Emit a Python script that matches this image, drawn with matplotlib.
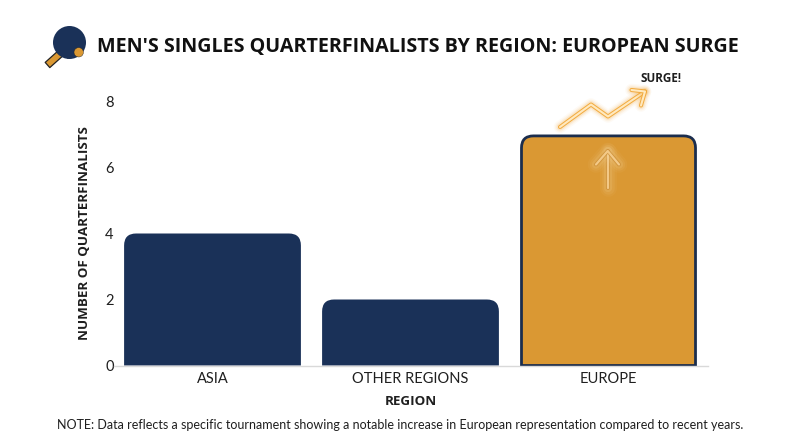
import matplotlib.pyplot as plt
from matplotlib.path import Path
from matplotlib.patches import PathPatch, Circle, Polygon

regions = ["ASIA", "OTHER REGIONS", "EUROPE"]
counts = [4, 2, 7]
y_ticks = [0, 2, 4, 6, 8]

NAVY = "#1a3158"
EDGE = "#1b2d4d"
GOLD = "#da9833"
INK = "#1f1f1f"
GLOW = "#f2a93b"

plt.rcParams["font.family"] = ["Lato", "DejaVu Sans"]
BOLD_FONT = ["Open Sans", "DejaVu Sans"]

fig = plt.figure(figsize=(8, 4.47), dpi=100)

# axes placed so that y=0 falls on pixel 365.5 and y=8 on 101.5
ax = fig.add_axes([113.5 / 800, 1 - 365.5 / 447, 594 / 800, 264 / 447])
ax.set_xlim(-0.5, 2.5)
ax.set_ylim(0, 8)


def top_rounded_bar(x, height, width=0.893, radius=12, inset=0):
    # radius and inset are in pixels, converted so the corners stay circular
    rx = radius / 198
    ry = radius / 33
    left, right = x - width / 2 + inset / 198, x + width / 2 - inset / 198
    top = height - inset / 33
    verts = [
        (left, 0), (left, top - ry), (left, top), (left + rx, top),
        (right - rx, top), (right, top), (right, top - ry), (right, 0), (left, 0),
    ]
    codes = [
        Path.MOVETO, Path.LINETO, Path.CURVE3, Path.CURVE3,
        Path.LINETO, Path.CURVE3, Path.CURVE3, Path.LINETO, Path.CLOSEPOLY,
    ]
    return Path(verts, codes)


for i, (region, count) in enumerate(zip(regions, counts)):
    if region == "EUROPE":
        patch = PathPatch(top_rounded_bar(i, count, inset=1.4), facecolor=GOLD, edgecolor=EDGE,
                          linewidth=2.0, clip_on=False)
    else:
        patch = PathPatch(top_rounded_bar(i, count), facecolor=NAVY, edgecolor="none")
    ax.add_patch(patch)

ax.set_xticks(range(len(regions)))
ax.set_xticklabels(regions, fontsize=10.5, color=INK)
ax.set_yticks(y_ticks)
ax.tick_params(axis="y", labelsize=10.5, labelcolor=INK, length=0, pad=0)
ax.tick_params(axis="x", length=0, pad=5)
for side in ["top", "right", "left"]:
    ax.spines[side].set_visible(False)
ax.spines["bottom"].set_color("#d9d9d9")
ax.spines["bottom"].set_linewidth(1)
ax.set_xlabel("REGION", fontsize=9.6, fontweight="bold", color=INK, labelpad=6, family=BOLD_FONT)
ax.set_ylabel("NUMBER OF QUARTERFINALISTS", fontsize=9.6, fontweight="bold", color=INK, labelpad=10,
              family=BOLD_FONT)

# overlay in pixel coordinates for the title, icon and decorations
over = fig.add_axes([0, 0, 1, 1])
over.set_xlim(0, 800)
over.set_ylim(447, 0)
over.axis("off")
over.patch.set_alpha(0)

over.text(97, 47, "MEN'S SINGLES QUARTERFINALISTS BY REGION: EUROPEAN SURGE", fontsize=14.25,
          fontweight="bold", color="#111111", va="center", family=BOLD_FONT)
over.text(661, 78, "SURGE!", fontsize=8.4, fontweight="bold", color=INK, ha="center", va="center",
          family=BOLD_FONT)
over.text(400, 425, "NOTE: Data reflects a specific tournament showing a notable increase in European "
          "representation compared to recent years.", fontsize=9.0, color=INK, ha="center", va="center")

# paddle icon
over.add_patch(Polygon([(45.2, 62.4), (49.8, 67.6), (64.3, 54.6), (68, 58), (55, 45), (59.7, 49.4)],
                       closed=True, facecolor=GOLD, edgecolor="#222222", lw=0.9, joinstyle="round"))
over.add_patch(Circle((69.5, 42.5), 16.5, facecolor=NAVY, edgecolor="none"))
over.add_patch(Circle((78.7, 52.3), 4.7, facecolor=GOLD, edgecolor="#222222", lw=0.3))


def glow_line(xs, ys, core):
    for lw, alpha in [(9, 0.05), (7, 0.09), (5, 0.16)]:
        over.plot(xs, ys, color=GLOW, lw=lw, alpha=alpha, solid_capstyle="round", solid_joinstyle="round")
    over.plot(xs, ys, color=GLOW, lw=3.0, alpha=0.95, solid_capstyle="round", solid_joinstyle="round")
    over.plot(xs, ys, color=core, lw=1.5, solid_capstyle="round", solid_joinstyle="round")


# surge arrow above the Europe bar
glow_line([560, 591, 608, 645], [127, 104.5, 116.5, 91.5], "#ffe9bf")
glow_line([631.5, 645, 641], [90, 91.5, 105.5], "#ffe9bf")

# faint up arrow inside the bar
for xs, ys in [([607.7, 607.7], [187.5, 151]), ([596, 607.7, 619], [164.5, 151, 164.5])]:
    for lw, alpha in [(12, 0.05), (9, 0.08), (6, 0.12)]:
        over.plot(xs, ys, color="#fbe2b0", lw=lw, alpha=alpha, solid_capstyle="round", solid_joinstyle="round")
    over.plot(xs, ys, color="#c98a32", lw=2.8, alpha=0.7, solid_capstyle="round", solid_joinstyle="round")
    over.plot(xs, ys, color="#f3c987", lw=1.6, solid_capstyle="round", solid_joinstyle="round")

fig.savefig("out.png", dpi=100)
